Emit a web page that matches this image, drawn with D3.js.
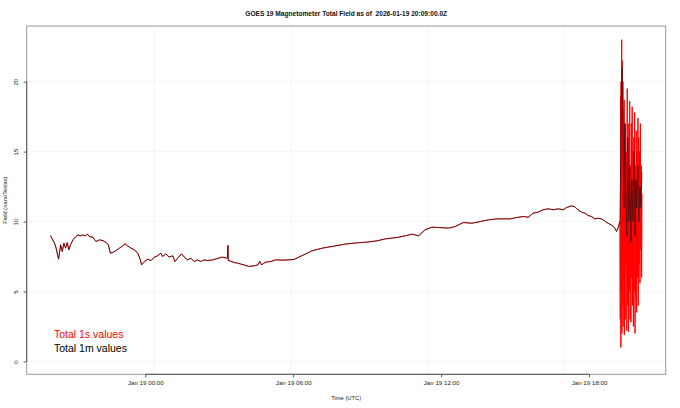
<!DOCTYPE html>
<html>
<head>
<meta charset="utf-8">
<script src="https://cdn.jsdelivr.net/npm/d3@7"></script>
<style>
  body { margin: 0; background: #fff; }
  text { font-family: "Liberation Sans", Arial, Helvetica, sans-serif; white-space: pre; }
</style>
</head>
<body>
<div id="chart"></div>
<script>
// minutes after the first sample (2026-01-18 20:09 UTC)
const calmMinutes = [0,10,14,20,25,29,33,37,41,45,49,55,61,67,73,79,85,90,95,103,111,119,128,136,141,146,152,160,168,176,182,188,196,204,213,219,222,229,237,245,253,261,269,273,281,289,298,303,310,319,326,334,342,350,358,366,374,382,395,407,419,429,431,432,433,435,447,455,471,483,496,505,510,514,524,536,548,568,593,613,637,662,690,718,747,771,795,815,844,864,880,896,912,929,945,969,985,1005,1026,1046,1066,1086,1102,1119,1135,1151,1163,1175,1187,1199,1212,1224,1236,1248,1256,1268,1276,1284,1293,1301,1309,1317,1325,1333,1341,1349,1357,1365,1373,1378,1382,1386];
const calmField = [9.0,8.46,8.1,7.31,8.34,7.86,8.46,8.1,8.5,7.98,8.34,8.69,8.89,9.05,8.98,9.05,8.98,9.1,8.93,8.89,8.57,8.69,8.64,8.5,8.34,7.74,7.79,7.93,8.1,8.26,8.41,8.26,8.1,7.98,7.74,7.26,6.9,7.14,7.31,7.21,7.46,7.55,7.74,7.5,7.69,7.46,7.55,7.14,7.38,7.69,7.46,7.26,7.38,7.14,7.26,7.14,7.26,7.21,7.26,7.36,7.46,7.38,7.4,8.3,7.2,7.21,7.07,7.03,6.9,6.79,6.84,6.9,7.14,6.9,7.1,7.14,7.26,7.24,7.29,7.57,7.91,8.1,8.24,8.39,8.48,8.53,8.62,8.76,8.86,8.98,9.1,8.98,9.41,9.6,9.57,9.53,9.64,9.93,9.88,10.0,10.12,10.19,10.19,10.19,10.29,10.36,10.31,10.6,10.67,10.84,10.91,10.84,10.91,10.84,11.0,11.12,11.07,10.84,10.67,10.6,10.43,10.36,10.19,10.24,10.19,10.05,9.88,9.76,9.57,9.29,9.57,10.0];

// the disturbed last hour
const spike1mMinutes = [1388,1390,1392,1394,1396,1398,1400,1403,1405,1408,1410,1413,1415,1418,1420,1423,1425,1427,1430,1432,1435,1437,1440];
const spike1mField = [14,20.1,21,15,11,17,12,9,16,10,14,8.5,13,10,15,9,13,11,14,10,12.5,11,13.5];
const spike1sMinutes = [1387,1388,1388.5,1389,1390,1390.5,1391,1392,1393,1393.5,1394,1395,1396,1396.5,1397,1398,1399,1400,1401,1402,1403,1404,1405,1406,1407,1408,1409,1410,1411,1412,1413,1414,1415,1416,1417,1418,1419,1420,1421,1422,1423,1424,1425,1426,1427,1428,1429,1430,1431,1432,1433,1434,1435,1436,1437,1438,1439,1440];
const spike1sField = [3,19,1.0,20,5,23,2,21.5,4,20,2.5,18,6,18.7,1.9,16,3,17,7,15,2.2,19.5,4,16,2.1,17,5,18.6,3,14,2.8,17,6,18.2,4,15,2.5,16,5,17.8,2,14,4.5,16.5,3.5,15,6,17.4,4,16,7,15,5.6,17,8,14,6,12];

const startTime = new Date(Date.UTC(2026, 0, 18, 20, 9));
const xTicks = ["2026-01-19T00:00:00Z", "2026-01-19T06:00:00Z", "2026-01-19T12:00:00Z", "2026-01-19T18:00:00Z"];
const yTicks = [0, 5, 10, 15, 20];
const gridMinutes = [253, 586, 919, 1252];
const legendLabels = ["Total 1s values", "Total 1m values"];
const legendColors = ["red", "black"];

const W = 680, H = 408;
const margin = { top: 26, right: 14.3, bottom: 33.7, left: 26.7 };
const width = W - margin.left - margin.right;
const height = H - margin.top - margin.bottom;

const toTime = m => new Date(startTime.getTime() + m * 60000);
const rows = (ms, vs) => ms.map((m, i) => ({ t: toTime(m), v: vs[i] }));
const oneSec = rows(calmMinutes.concat(spike1sMinutes), calmField.concat(spike1sField));
const oneMin = rows(calmMinutes.concat(spike1mMinutes), calmField.concat(spike1mField));

const svg = d3.select("#chart")
    .append("svg")
    .attr("width", W)
    .attr("height", H);

const g = svg.append("g")
    .attr("transform", `translate(${margin.left},${margin.top})`);

// R-style 4% padding on both axes
const tExt = d3.extent(oneSec, d => d.t);
const tPad = (tExt[1] - tExt[0]) * 0.04;
const x = d3.scaleUtc()
    .domain([new Date(+tExt[0] - tPad), new Date(+tExt[1] + tPad)])
    .range([0, width]);
const y = d3.scaleLinear()
    .domain([-0.92, 23.98])
    .range([height, 0]);

// grid
g.append("g")
    .selectAll("line")
    .data(yTicks)
    .join("line")
    .attr("x1", 0).attr("x2", width)
    .attr("y1", d => y(d)).attr("y2", d => y(d))
    .attr("stroke", "#e4e4e4")
    .attr("stroke-width", 0.7)
    .attr("stroke-dasharray", "1,1");
g.append("g")
    .selectAll("line")
    .data(gridMinutes)
    .join("line")
    .attr("x1", d => x(toTime(d))).attr("x2", d => x(toTime(d)))
    .attr("y1", 0).attr("y2", height)
    .attr("stroke", "#e4e4e4")
    .attr("stroke-width", 0.7)
    .attr("stroke-dasharray", "1,1");

const line = d3.line()
    .x(d => x(d.t))
    .y(d => y(d.v));

g.append("path")
    .datum(oneSec)
    .attr("fill", "none")
    .attr("stroke", "red")
    .attr("stroke-width", 1)
    .attr("stroke-linejoin", "round")
    .attr("d", line);

g.append("path")
    .datum(oneMin)
    .attr("fill", "none")
    .attr("stroke", "#111")
    .attr("stroke-width", 0.6)
    .attr("stroke-linejoin", "round")
    .attr("d", line);

// box
g.append("rect")
    .attr("width", width)
    .attr("height", height)
    .attr("fill", "none")
    .attr("stroke", "#999")
    .attr("stroke-width", 1);

// axes
const xAxis = g.append("g")
    .attr("transform", `translate(0,${height})`)
    .call(d3.axisBottom(x)
        .tickValues(xTicks.map(d => new Date(d)))
        .tickFormat(d3.utcFormat("%b %d %H:%M"))
        .tickSize(3)
        .tickPadding(3.5));
xAxis.select(".domain").remove();
xAxis.selectAll("line").attr("stroke", "#555");
xAxis.selectAll("text")
    .attr("fill", "#222")
    .style("font-size", "6.2px")
    .style("font-family", "Liberation Sans, Arial, sans-serif");
g.append("line")
    .attr("x1", x(new Date(xTicks[0]))).attr("x2", x(new Date(xTicks[xTicks.length - 1])))
    .attr("y1", height).attr("y2", height)
    .attr("stroke", "#555");

const yAxis = g.append("g")
    .call(d3.axisLeft(y).tickValues(yTicks).tickSize(3).tickPadding(0));
yAxis.select(".domain").remove();
yAxis.selectAll("line").attr("stroke", "#555");
yAxis.selectAll(".tick text")
    .attr("fill", "#222")
    .attr("x", -10)
    .attr("dy", null)
    .attr("text-anchor", "middle")
    .attr("dominant-baseline", "middle")
    .attr("transform", "rotate(-90,-10,0)")
    .style("font-size", "6.2px")
    .style("font-family", "Liberation Sans, Arial, sans-serif");
g.append("line")
    .attr("x1", 0).attr("x2", 0)
    .attr("y1", y(yTicks[0])).attr("y2", y(yTicks[yTicks.length - 1]))
    .attr("stroke", "#555");

// titles
svg.append("text")
    .attr("x", margin.left + width / 2)
    .attr("y", 15.5)
    .attr("text-anchor", "middle")
    .style("font-size", "6.6px")
    .style("font-weight", "bold")
    .attr("fill", "#111")
    .text("GOES 19 Magnetometer Total Field as of  2026-01-19 20:09:00.0Z");

svg.append("text")
    .attr("x", margin.left + width / 2)
    .attr("y", 399.5)
    .attr("text-anchor", "middle")
    .style("font-size", "5.8px")
    .attr("fill", "#222")
    .text("Time (UTC)");

svg.append("text")
    .attr("transform", `translate(7,${margin.top + height / 2}) rotate(-90)`)
    .attr("text-anchor", "middle")
    .style("font-size", "5.8px")
    .attr("fill", "#222")
    .text("Field (nanoTeslas)");

// legend
svg.append("g")
    .selectAll("text")
    .data(legendLabels)
    .join("text")
    .attr("x", 54)
    .attr("y", (d, i) => 338 + i * 14)
    .style("font-size", "10.5px")
    .attr("fill", (d, i) => legendColors[i])
    .text(d => d);
</script>
</body>
</html>
